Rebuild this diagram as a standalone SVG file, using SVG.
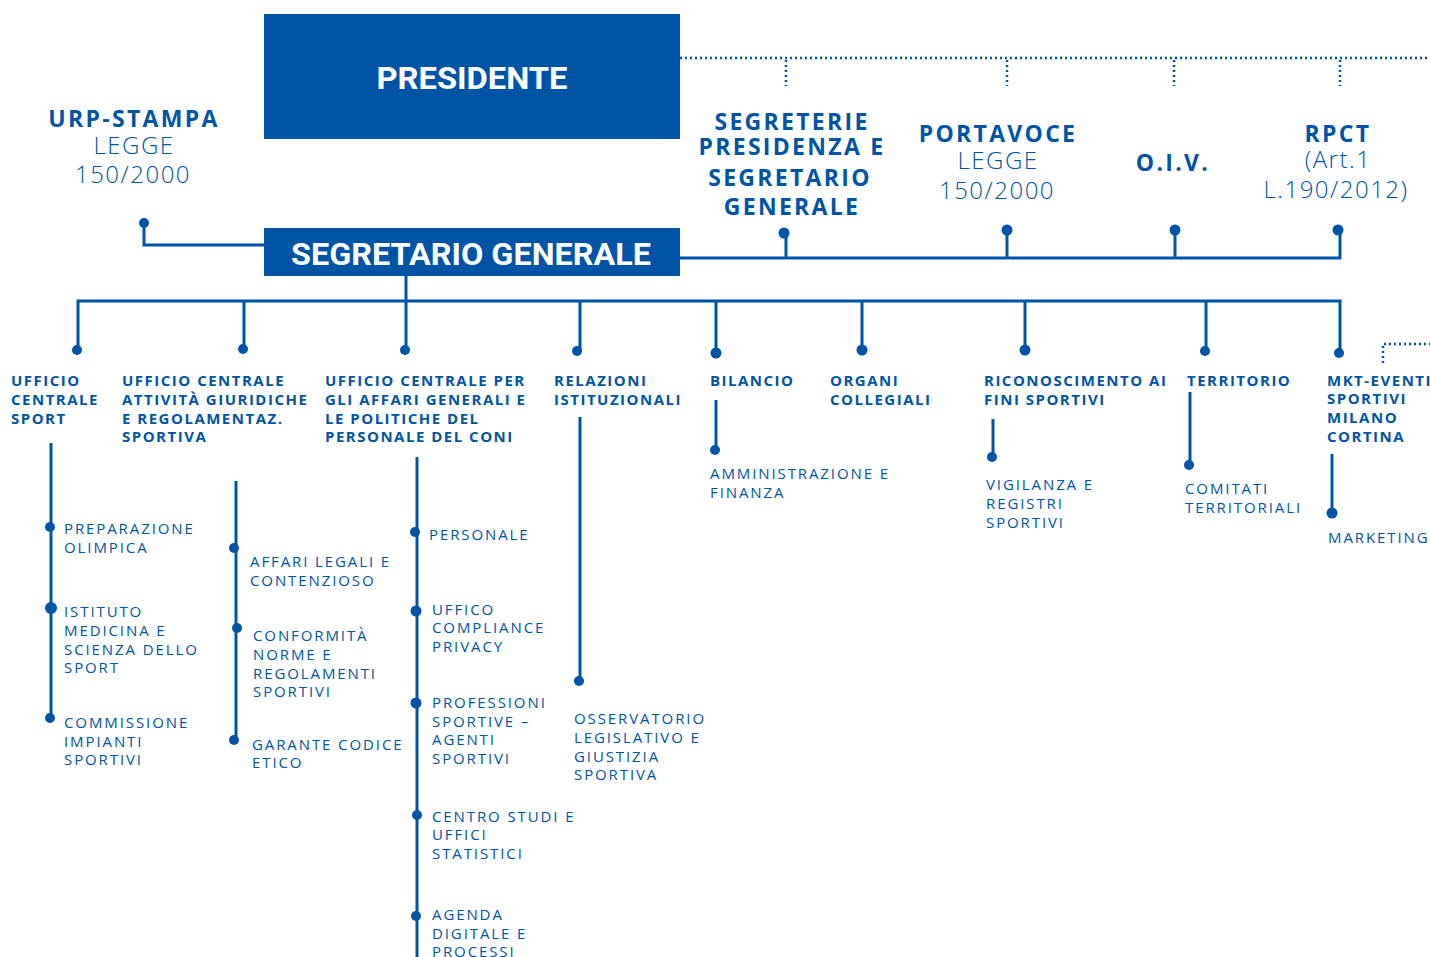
<svg xmlns="http://www.w3.org/2000/svg" width="1430" height="957" viewBox="0 0 1430 957">
<style>
  .box{fill:#0054A6}
  .bt{font-family:Roboto,"Liberation Sans",sans-serif;font-weight:700;font-size:31px;fill:#ffffff;text-anchor:middle}
  .hb{font-family:"Open Sans","Noto Sans",sans-serif;font-weight:700;font-size:23px;letter-spacing:2.3px;fill:#0054A6;text-anchor:middle}
  .hl{font-family:"Open Sans","Noto Sans",sans-serif;font-weight:300;font-size:24px;letter-spacing:1.5px;fill:#0054A6;text-anchor:middle}
  .b{font-family:"Open Sans","Noto Sans",sans-serif;font-weight:700;font-size:15px;letter-spacing:1.5px;fill:#0054A6}
  .l{font-family:"Open Sans","Noto Sans",sans-serif;font-weight:400;font-size:15px;letter-spacing:1.9px;fill:#0054A6}
  .c{stroke:#0054A6;stroke-width:3;fill:none}
  .d{stroke:#0054A6;stroke-width:2.5;fill:none;stroke-dasharray:2 3}
  .dot{fill:#0054A6}
</style>
<defs>
  <clipPath id="clipRic"><rect x="980" y="360" width="187" height="60"/></clipPath>
</defs>
<rect width="1430" height="957" fill="#ffffff"/>

<g id="connectors">
  <path class="d" d="M680 58 H1430"/>
  <path class="d" d="M786 60 V86 M1007 60 V86 M1174 60 V86 M1340 60 V86"/>
  <path class="d" d="M1383 363 V344 H1430"/>
  <path class="c" d="M144 223 V245 H264"/>
  <circle class="dot" cx="144" cy="223" r="5"/>
  <path class="c" d="M680 258 H1340 V231"/>
  <path class="c" d="M786 258 V233 M1007 258 V230 M1175 258 V230"/>
  <circle class="dot" cx="784" cy="233" r="5.5"/>
  <circle class="dot" cx="1007" cy="230" r="5.5"/>
  <circle class="dot" cx="1175" cy="230" r="5.5"/>
  <circle class="dot" cx="1338" cy="230" r="5.5"/>
  <path class="c" d="M406 276 V301"/>
  <path class="c" d="M78 350 V301 H1340 V353"/>
  <path class="c" d="M244 301 V349 M406 301 V350 M580 301 V351 M716 301 V353 M862 301 V350 M1025 301 V350 M1206 301 V351"/>
  <circle class="dot" cx="77" cy="350" r="5"/>
  <circle class="dot" cx="243" cy="349" r="5"/>
  <circle class="dot" cx="405" cy="350" r="5"/>
  <circle class="dot" cx="577" cy="351" r="5"/>
  <circle class="dot" cx="716" cy="353" r="5.5"/>
  <circle class="dot" cx="862" cy="350" r="5.5"/>
  <circle class="dot" cx="1025" cy="350" r="5.5"/>
  <circle class="dot" cx="1205" cy="351" r="5"/>
  <circle class="dot" cx="1339" cy="353" r="5"/>
  <path class="c" d="M51 443 V720"/>
  <circle class="dot" cx="50" cy="527" r="5"/>
  <circle class="dot" cx="51" cy="608" r="6"/>
  <circle class="dot" cx="50" cy="718" r="5"/>
  <path class="c" d="M236 481 V741"/>
  <circle class="dot" cx="234" cy="548" r="5"/>
  <circle class="dot" cx="237" cy="628" r="5"/>
  <circle class="dot" cx="234" cy="740" r="5"/>
  <path class="c" d="M417 457 V957"/>
  <circle class="dot" cx="415" cy="532" r="5"/>
  <circle class="dot" cx="416" cy="611" r="5.5"/>
  <circle class="dot" cx="416" cy="703" r="5.5"/>
  <circle class="dot" cx="417" cy="815" r="5"/>
  <circle class="dot" cx="416" cy="916" r="5"/>
  <path class="c" d="M580 417 V681"/>
  <circle class="dot" cx="579" cy="681" r="5"/>
  <path class="c" d="M716 400 V450"/>
  <circle class="dot" cx="715" cy="450" r="5"/>
  <path class="c" d="M993 419 V457"/>
  <circle class="dot" cx="992" cy="457" r="5"/>
  <path class="c" d="M1190 392 V465"/>
  <circle class="dot" cx="1189" cy="465" r="5"/>
  <path class="c" d="M1332 454 V513"/>
  <circle class="dot" cx="1332" cy="513" r="5.5"/>
</g>

<g id="presidente">
  <rect class="box" x="264" y="14" width="416" height="125"/>
  <text class="bt" x="472" y="89" textLength="191" lengthAdjust="spacingAndGlyphs">PRESIDENTE</text>
</g>
<g id="segretario-generale">
  <rect class="box" x="264" y="228" width="416" height="48"/>
  <text class="bt" x="471" y="265" textLength="360" lengthAdjust="spacingAndGlyphs">SEGRETARIO GENERALE</text>
</g>
<g id="urp-stampa">
  <text class="hb" x="134" y="127">URP-STAMPA</text>
  <text class="hl" x="134" y="154">LEGGE</text>
  <text class="hl" x="133" y="183">150/2000</text>
</g>
<g id="segreterie">
  <text class="hb" x="792" y="130">SEGRETERIE</text>
  <text class="hb" x="792" y="155">PRESIDENZA E</text>
  <text class="hb" x="790" y="186">SEGRETARIO</text>
  <text class="hb" x="792" y="215">GENERALE</text>
</g>
<g id="portavoce">
  <text class="hb" x="998" y="142">PORTAVOCE</text>
  <text class="hl" x="998" y="169">LEGGE</text>
  <text class="hl" x="997" y="199">150/2000</text>
</g>
<g id="oiv">
  <text class="hb" x="1173" y="171">O.I.V.</text>
</g>
<g id="rpct">
  <text class="hb" x="1338" y="142">RPCT</text>
  <text class="hl" x="1338" y="168">(Art.1</text>
  <text class="hl" x="1336" y="198">L.190/2012)</text>
</g>

<g id="ufficio-centrale-sport">
  <text class="b" x="11" y="386">UFFICIO</text>
  <text class="b" x="11" y="405">CENTRALE</text>
  <text class="b" x="11" y="424">SPORT</text>
</g>
<g id="ufficio-attivita-giuridiche">
  <text class="b" x="122" y="386">UFFICIO CENTRALE</text>
  <text class="b" x="122" y="405">ATTIVITÀ GIURIDICHE</text>
  <text class="b" x="122" y="424">E REGOLAMENTAZ.</text>
  <text class="b" x="122" y="442">SPORTIVA</text>
</g>
<g id="ufficio-affari-generali">
  <text class="b" x="325" y="386">UFFICIO CENTRALE PER</text>
  <text class="b" x="325" y="405">GLI AFFARI GENERALI E</text>
  <text class="b" x="325" y="424">LE POLITICHE DEL</text>
  <text class="b" x="325" y="442">PERSONALE DEL CONI</text>
</g>
<g id="relazioni-istituzionali">
  <text class="b" x="554" y="386">RELAZIONI</text>
  <text class="b" x="554" y="405">ISTITUZIONALI</text>
</g>
<g id="bilancio">
  <text class="b" x="710" y="386">BILANCIO</text>
</g>
<g id="organi-collegiali">
  <text class="b" x="830" y="386">ORGANI</text>
  <text class="b" x="830" y="405">COLLEGIALI</text>
</g>
<g id="riconoscimento">
  <g clip-path="url(#clipRic)">
    <text class="b" x="984" y="386">RICONOSCIMENTO AI</text>
  </g>
  <text class="b" x="984" y="405">FINI SPORTIVI</text>
</g>
<g id="territorio">
  <text class="b" x="1187" y="386">TERRITORIO</text>
</g>
<g id="mkt-eventi">
  <text class="b" x="1327" y="386">MKT-EVENTI</text>
  <text class="b" x="1327" y="404">SPORTIVI</text>
  <text class="b" x="1327" y="423">MILANO</text>
  <text class="b" x="1327" y="442">CORTINA</text>
</g>

<g id="preparazione-olimpica">
  <text class="l" x="64" y="534">PREPARAZIONE</text>
  <text class="l" x="64" y="553">OLIMPICA</text>
</g>
<g id="istituto-medicina">
  <text class="l" x="64" y="617">ISTITUTO</text>
  <text class="l" x="64" y="636">MEDICINA E</text>
  <text class="l" x="64" y="655">SCIENZA DELLO</text>
  <text class="l" x="64" y="673">SPORT</text>
</g>
<g id="commissione-impianti">
  <text class="l" x="64" y="728">COMMISSIONE</text>
  <text class="l" x="64" y="747">IMPIANTI</text>
  <text class="l" x="64" y="765">SPORTIVI</text>
</g>
<g id="affari-legali">
  <text class="l" x="250" y="567">AFFARI LEGALI E</text>
  <text class="l" x="250" y="586">CONTENZIOSO</text>
</g>
<g id="conformita">
  <text class="l" x="253" y="641">CONFORMITÀ</text>
  <text class="l" x="253" y="660">NORME E</text>
  <text class="l" x="253" y="679">REGOLAMENTI</text>
  <text class="l" x="253" y="697">SPORTIVI</text>
</g>
<g id="garante">
  <text class="l" x="252" y="750">GARANTE CODICE</text>
  <text class="l" x="252" y="768">ETICO</text>
</g>
<g id="personale">
  <text class="l" x="429" y="540">PERSONALE</text>
</g>
<g id="compliance">
  <text class="l" x="432" y="615">UFFICO</text>
  <text class="l" x="432" y="633">COMPLIANCE</text>
  <text class="l" x="432" y="652">PRIVACY</text>
</g>
<g id="professioni">
  <text class="l" x="432" y="708">PROFESSIONI</text>
  <text class="l" x="432" y="727">SPORTIVE –</text>
  <text class="l" x="432" y="745">AGENTI</text>
  <text class="l" x="432" y="764">SPORTIVI</text>
</g>
<g id="centro-studi">
  <text class="l" x="432" y="822">CENTRO STUDI E</text>
  <text class="l" x="432" y="840">UFFICI</text>
  <text class="l" x="432" y="859">STATISTICI</text>
</g>
<g id="agenda-digitale">
  <text class="l" x="432" y="920">AGENDA</text>
  <text class="l" x="432" y="939">DIGITALE E</text>
  <text class="l" x="432" y="957">PROCESSI</text>
</g>
<g id="osservatorio">
  <text class="l" x="574" y="724">OSSERVATORIO</text>
  <text class="l" x="574" y="743">LEGISLATIVO E</text>
  <text class="l" x="574" y="762">GIUSTIZIA</text>
  <text class="l" x="574" y="780">SPORTIVA</text>
</g>
<g id="amministrazione">
  <text class="l" x="710" y="479">AMMINISTRAZIONE E</text>
  <text class="l" x="710" y="498">FINANZA</text>
</g>
<g id="vigilanza">
  <text class="l" x="986" y="490">VIGILANZA E</text>
  <text class="l" x="986" y="509">REGISTRI</text>
  <text class="l" x="986" y="528">SPORTIVI</text>
</g>
<g id="comitati">
  <text class="l" x="1185" y="494">COMITATI</text>
  <text class="l" x="1185" y="513">TERRITORIALI</text>
</g>
<g id="marketing">
  <text class="l" x="1328" y="543">MARKETING</text>
</g>
</svg>
